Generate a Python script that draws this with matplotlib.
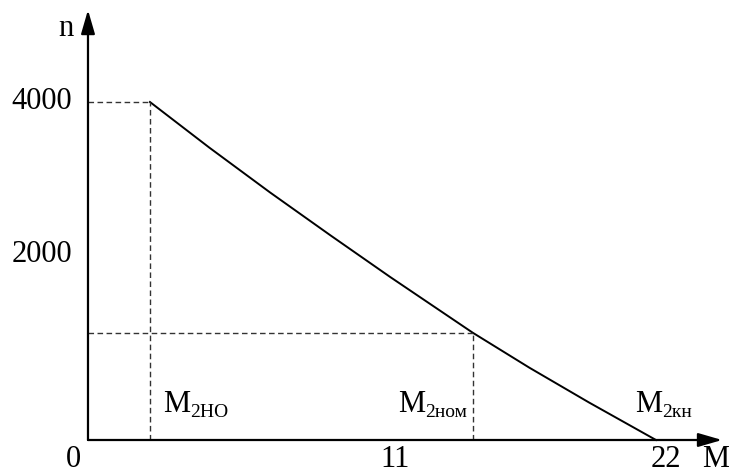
import matplotlib
matplotlib.use("Agg")
import matplotlib.pyplot as plt

plt.rcParams['font.family'] = ['Liberation Serif', 'DejaVu Serif']

# Mechanical characteristic n(M)
torque = [2.4, 4.7, 7.05, 9.4, 11.7, 14.9, 17.1, 19.4, 22.0]
speed = [4000, 3460, 2930, 2420, 1930, 1270, 855, 445, 0]

# Marked operating points
m_start, n_start = 2.4, 4000
m_nom, n_nom = 14.9, 1270

# Axis tick labels (value text, position along the axis)
x_tick_text = ['0', '11', '22']
x_tick_pos = [-0.58, 11.9, 22.4]
y_tick_text = ['4000', '2000']
y_tick_pos = [4000, 2190]

# Torque labels along the axis
m_label_sub = ['2НО', '2ном', '2кн']
m_label_pos = [2.9, 12.0, 21.2]

fig = plt.figure(figsize=(7.29, 4.74), dpi=100)
ax = fig.add_axes([0, 0, 1, 1])
ax.set_xlim(-3.408, 24.828)
ax.set_ylim(-402.4, 5207)
ax.axis('off')

# Axes with arrowheads
arrow_kw = dict(arrowstyle='-|>,head_length=1.45,head_width=0.42',
                color='black', lw=1.6, mutation_scale=10, shrinkA=0, shrinkB=0)
ax.annotate('', xy=(24.56, 0), xytext=(0, 0), arrowprops=arrow_kw)
ax.annotate('', xy=(0, 5089), xytext=(0, 0), arrowprops=arrow_kw)

# Characteristic curve
ax.plot(torque, speed, color='black', lw=1.4, solid_joinstyle='round')

# Projection lines of the marked points
dash = dict(color='#333333', lw=1.0, ls=(0, (4, 2.5)))
ax.plot([0, m_start], [n_start, n_start], **dash)
ax.plot([m_start, m_start], [0, n_start], **dash)
ax.plot([0, m_nom], [n_nom, n_nom], **dash)
ax.plot([m_nom, m_nom], [0, n_nom], **dash)

fs = 22
for t, x in zip(x_tick_text, x_tick_pos):
    ax.text(x, -318, t, ha='center', va='baseline', fontsize=fs)
for t, y in zip(y_tick_text, y_tick_pos):
    ax.text(-0.62, y, t, ha='right', va='center', fontsize=fs)

ax.text(24.33, -318, 'M', ha='center', va='baseline', fontsize=fs)
ax.text(-0.85, 4870, 'n', ha='center', va='center', fontsize=fs)

for sub, x in zip(m_label_sub, m_label_pos):
    tm = ax.text(x, 330, 'M', ha='left', va='baseline', fontsize=fs)
    ax.annotate(sub, xy=(1, 0), xycoords=tm, xytext=(0, -1.0),
                textcoords='offset points', ha='left', va='bottom', fontsize=14)

fig.savefig('out.png', dpi=100)
